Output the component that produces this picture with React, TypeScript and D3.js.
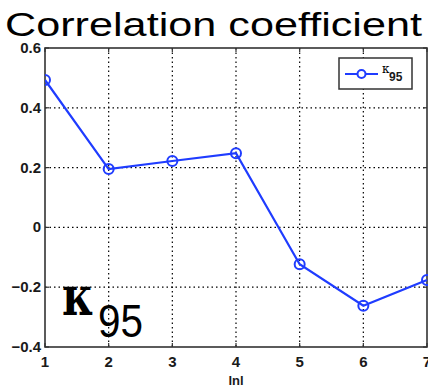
import React from "react";
import * as d3 from "d3";

const lnl = [1, 2, 3, 4, 5, 6, 7];
const kappa95 = [0.493, 0.195, 0.222, 0.248, -0.123, -0.262, -0.176];
const xTicks = [1, 2, 3, 4, 5, 6, 7];
const yTicks = [-0.4, -0.2, 0, 0.2, 0.4, 0.6];
const yTickLabels = ["\u22120.4", "\u22120.2", "0", "0.2", "0.4", "0.6"];

const W = 428;
const H = 388;
const left = 45;
const right = 427;
const top = 48;
const bottom = 347;
const blue = "#1f3cff";
const frame = "#333";

export default function App() {
  const x = d3.scaleLinear().domain([1, 7]).range([left, right]);
  const y = d3.scaleLinear().domain([-0.4, 0.6]).range([bottom, top]);
  const line = d3
    .line<number>()
    .x((_, i) => x(lnl[i]))
    .y((d) => y(d));

  return (
    <div style={{ position: "fixed", left: 0, top: 0 }}>
      <svg width={W} height={H} style={{ display: "block", background: "#fff" }}>
        <defs>
          <clipPath id="plotClip">
            <rect x={left} y={top} width={right - left + 1} height={bottom - top} />
          </clipPath>
        </defs>
        {/* title */}
        <text
          x={5}
          y={36}
          fontFamily="Liberation Sans, Arial, sans-serif"
          fontSize={34}
          textLength={417}
          lengthAdjust="spacingAndGlyphs"
          fill="#000"
        >
          Correlation coefficient
        </text>

        {/* grid */}
        <g stroke="#000" strokeWidth={1.2} strokeDasharray="1.5,3">
          {xTicks.slice(1, -1).map((t) => (
            <line key={"gx" + t} x1={x(t)} x2={x(t)} y1={top} y2={bottom} />
          ))}
          {yTicks.slice(1, -1).map((t) => (
            <line key={"gy" + t} x1={left} x2={right} y1={y(t)} y2={y(t)} />
          ))}
        </g>

        {/* frame */}
        <rect
          x={left}
          y={top}
          width={right - left}
          height={bottom - top}
          fill="none"
          stroke={frame}
          strokeWidth={1.6}
        />
        <g stroke={frame} strokeWidth={1.2}>
          {xTicks.map((t) => (
            <g key={"tx" + t}>
              <line x1={x(t)} x2={x(t)} y1={bottom} y2={bottom - 4} />
              <line x1={x(t)} x2={x(t)} y1={top} y2={top + 4} />
            </g>
          ))}
          {yTicks.map((t) => (
            <g key={"ty" + t}>
              <line x1={left} x2={left + 4} y1={y(t)} y2={y(t)} />
              <line x1={right} x2={right - 4} y1={y(t)} y2={y(t)} />
            </g>
          ))}
        </g>

        {/* tick labels */}
        <g fontFamily="Liberation Sans, Arial, sans-serif" fontWeight="bold" fontSize={15} fill="#1a1a1a">
          {xTicks.map((t) => (
            <text key={"lx" + t} x={x(t)} y={367} textAnchor="middle">
              {t}
            </text>
          ))}
          {yTicks.map((t, i) => (
            <text key={"ly" + t} x={41} y={y(t) + 5} textAnchor="end">
              {yTickLabels[i]}
            </text>
          ))}
          <text x={x(4)} y={385} textAnchor="middle" fontSize={13}>
            lnl
          </text>
        </g>

        {/* data */}
        <g clipPath="url(#plotClip)">
          <path d={line(kappa95) ?? ""} fill="none" stroke={blue} strokeWidth={2.2} />
          {kappa95.map((v, i) => (
            <circle
              key={"p" + i}
              cx={x(lnl[i])}
              cy={y(v)}
              r={5}
              fill="none"
              stroke={blue}
              strokeWidth={2}
            />
          ))}
        </g>

        {/* legend */}
        <rect x={339} y={58} width={73} height={31} fill="#fff" stroke={frame} strokeWidth={1.5} />
        <line x1={345} x2={378} y1={74} y2={74} stroke={blue} strokeWidth={2} />
        <circle cx={361.5} cy={74} r={4} fill="#fff" stroke={blue} strokeWidth={2} />
        <text x={382} y={73} fontFamily="DejaVu Serif, serif" fontSize={12} fill="#000">
          κ
        </text>
        <text
          x={389}
          y={81}
          fontFamily="Liberation Sans, Arial, sans-serif"
          fontWeight="bold"
          fontSize={12}
          fill="#1a1a1a"
        >
          95
        </text>

        {/* in-plot annotation */}
        <text
          x={62}
          y={315}
          fontFamily="DejaVu Serif, serif"
          fontWeight="bold"
          fontSize={54}
          textLength={32}
          lengthAdjust="spacingAndGlyphs"
          fill="#000"
        >
          κ
        </text>
        <text
          x={98}
          y={337}
          fontFamily="Liberation Sans, Arial, sans-serif"
          fontSize={46}
          textLength={45}
          lengthAdjust="spacingAndGlyphs"
          fill="#000"
        >
          95
        </text>
      </svg>
    </div>
  );
}
